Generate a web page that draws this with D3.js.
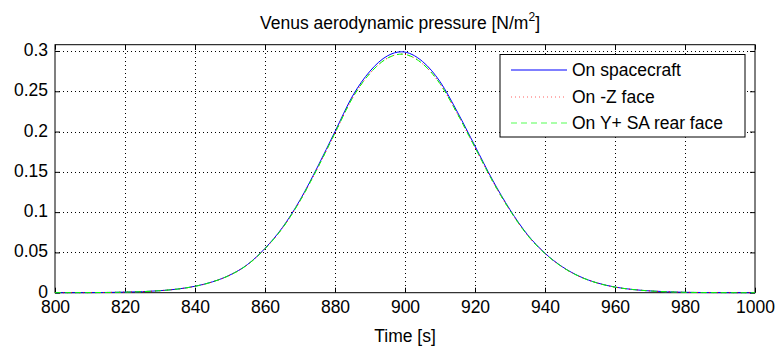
<!DOCTYPE html>
<html><head><meta charset="utf-8">
<script src="https://cdn.jsdelivr.net/npm/d3@7"></script>
<style>
body{margin:0;background:#fff;}
text{font-family:"Liberation Sans",Arial,sans-serif;fill:#000;}
</style></head><body>
<svg id="c" width="777" height="349"></svg>
<script>
const times = [800,805,810,815,820,825,830,835,840,845,850,855,860,865,870,875,880,885,890,895,899,905,910,915,920,925,930,935,940,945,950,955,960,965,970,975,980,985,990,995,1000];
const spacecraft = [0,0.00005,0.0001,0.0003,0.0007,0.0013,0.0025,0.0045,0.008,0.0135,0.022,0.035,0.055,0.081,0.115,0.156,0.200,0.244,0.275,0.294,0.299,0.287,0.262,0.224,0.182,0.140,0.103,0.072,0.049,0.032,0.020,0.012,0.007,0.004,0.0022,0.0011,0.0005,0.0002,0.0001,0,0];
const zFace = [0,0.00005,0.0001,0.0003,0.0007,0.0013,0.0025,0.0045,0.0079,0.0134,0.0218,0.0347,0.0545,0.0802,0.1139,0.1545,0.1981,0.2417,0.2723,0.2911,0.2961,0.2842,0.2594,0.2218,0.1802,0.1386,0.1020,0.0713,0.0485,0.0317,0.0198,0.0119,0.0069,0.004,0.0022,0.0011,0.0005,0.0002,0.0001,0,0];
const yFace = [0,0.00005,0.0001,0.0003,0.0007,0.0013,0.0025,0.0045,0.0079,0.0134,0.0218,0.0347,0.0545,0.0802,0.1139,0.1545,0.1981,0.2417,0.2723,0.2911,0.2961,0.2842,0.2594,0.2218,0.1802,0.1386,0.1020,0.0713,0.0485,0.0317,0.0198,0.0119,0.0069,0.004,0.0022,0.0011,0.0005,0.0002,0.0001,0,0];
const xTicks = [800,820,840,860,880,900,920,940,960,980,1000];
const yTicks = [0,0.05,0.1,0.15,0.2,0.25,0.3];
const yTickLabels = ["0","0.05","0.1","0.15","0.2","0.25","0.3"];
const legendLabels = ["On spacecraft","On -Z face","On Y+ SA rear face"];

const svg = d3.select("#c");
const L=55,R=755,T=44.7,B=292.7;
const x = d3.scaleLinear().domain([800,1000]).range([L,R]);
const y = d3.scaleLinear().domain([0,0.3078]).range([B,T]);
const FS = 17.5;

// grid
const g = svg.append("g");
g.selectAll(".gx").data(xTicks.slice(1,-1)).enter().append("line")
 .attr("x1",d=>x(d)).attr("x2",d=>x(d)).attr("y1",T).attr("y2",B)
 .attr("stroke","#000").attr("stroke-width",1).attr("stroke-dasharray","1,3").attr("shape-rendering","crispEdges");
g.selectAll(".gy").data(yTicks.slice(1)).enter().append("line")
 .attr("x1",L).attr("x2",R).attr("y1",d=>Math.round(y(d))+0.5).attr("y2",d=>Math.round(y(d))+0.5)
 .attr("stroke","#000").attr("stroke-width",1).attr("stroke-dasharray","1,3").attr("shape-rendering","crispEdges");

// axes
const ax = svg.append("g");
const xb = d3.axisBottom(x).tickValues(xTicks).tickSize(-5).tickPadding(8).tickFormat(d3.format("d"));
const xt = d3.axisTop(x).tickValues(xTicks).tickSize(-5).tickFormat("");
const yl = d3.axisLeft(y).tickValues(yTicks).tickSize(-5).tickPadding(7).tickFormat((d,i)=>yTickLabels[i]);
const yr = d3.axisRight(y).tickValues(yTicks).tickSize(-5).tickFormat("");
function style(sel){sel.selectAll("path").remove();sel.selectAll("line").attr("stroke","#000");sel.selectAll("text").style("font-size",FS+"px").style("font-family","'Liberation Sans',Arial,sans-serif");}
ax.append("g").attr("transform",`translate(0,${B})`).call(xb).call(style);
ax.append("g").attr("transform",`translate(0,${T})`).call(xt).call(style);
ax.append("g").attr("transform",`translate(${L},0)`).call(yl).call(style).selectAll("text").attr("dy","0.26em");
ax.append("g").attr("transform",`translate(${R},0)`).call(yr).call(style);
svg.append("rect").attr("x",L).attr("y",T).attr("width",R-L).attr("height",B-T)
 .attr("fill","none").attr("stroke","#000").attr("stroke-width",1);

// lines
const line = d3.line().x(d=>x(d[0])).y(d=>y(d[1])).curve(d3.curveMonotoneX);
const series = [
 {v:spacecraft,c:"#0000ff",dash:null},
 {v:zFace,c:"#ff0000",dash:"1,3"},
 {v:yFace,c:"#00ff00",dash:"6,4"}
];
series.forEach(s=>{
 svg.append("path").datum(times.map((t,i)=>[t,s.v[i]]))
  .attr("d",line).attr("fill","none").attr("stroke",s.c).attr("stroke-width",1)
  .attr("stroke-dasharray",s.dash);
});

// legend
const lg = svg.append("g");
lg.append("rect").attr("x",500).attr("y",54.5).attr("width",245).attr("height",82.5)
 .attr("fill","#fff").attr("stroke","#000").attr("stroke-width",1);
const ly=[70,97,123];
const lstyle=[{c:"#0000ff",d:null},{c:"#ff6060",d:"1,3"},{c:"#55ff55",d:"6,4"}];
legendLabels.forEach((t,i)=>{
 lg.append("line").attr("x1",511).attr("x2",567).attr("y1",ly[i]).attr("y2",ly[i])
  .attr("stroke",lstyle[i].c).attr("stroke-width",1.2).attr("stroke-dasharray",lstyle[i].d);
 lg.append("text").attr("x",572).attr("y",ly[i]+6).style("font-size",FS+"px").text(t);
});

// title & labels
const title = svg.append("text").attr("x",400).attr("y",29).attr("text-anchor","middle").style("font-size",FS+"px");
title.append("tspan").text("Venus aerodynamic pressure [N/m");
title.append("tspan").attr("dy",-8).style("font-size","12px").text("2");
title.append("tspan").attr("dy",8).text("]");
svg.append("text").attr("x",(L+R)/2).attr("y",342).attr("text-anchor","middle").style("font-size",FS+"px").text("Time [s]");
</script></body></html>
